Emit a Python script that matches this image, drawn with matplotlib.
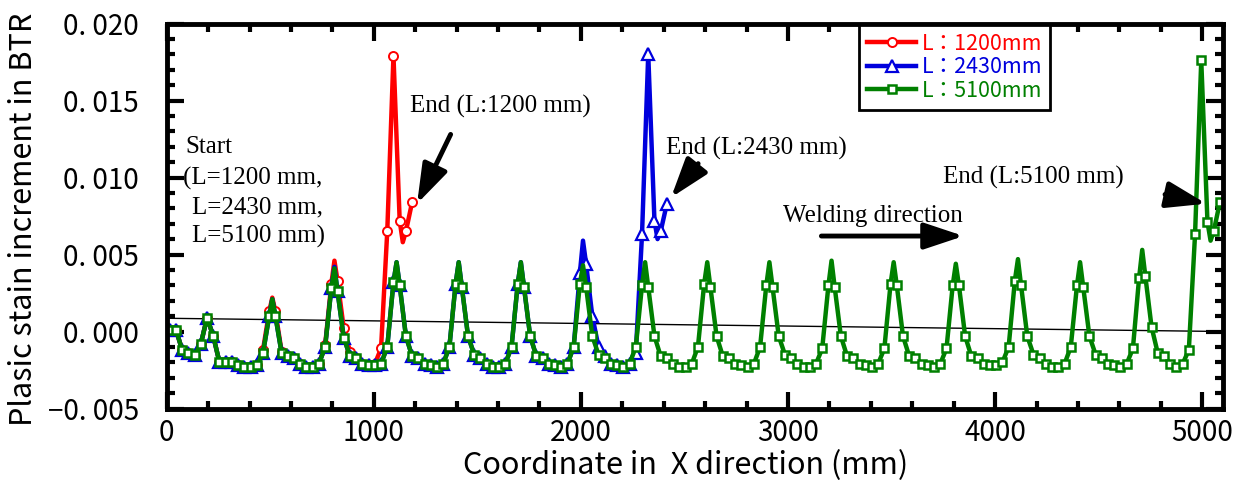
import numpy as np
import matplotlib
matplotlib.use('Agg')
import matplotlib.pyplot as plt
from matplotlib.ticker import MultipleLocator, FuncFormatter

plt.rcParams['font.family'] = ['Noto Sans CJK JP', 'DejaVu Sans']

# ---- data ----
# marker positions: every 30 mm starting at 15 mm
green_x = np.arange(15, 5100, 30)
green_y = [
    0.0001, 0.0001, -0.0012, -0.0014, -0.0015, -0.0008, 0.0009, -0.0003, -0.0020, -0.0020,
    -0.0020, -0.0022, -0.0023, -0.0023, -0.0022, -0.0014,
    0.0010, 0.0010, -0.0014, -0.0016, -0.0017, -0.0021, -0.0023, -0.0023, -0.0021, -0.0010,
    0.0028, 0.0026, -0.0004, -0.0016, -0.0017, -0.0021, -0.0022, -0.0022, -0.0021, -0.0010,
    0.0032, 0.0030, -0.0003, -0.0016, -0.0017, -0.0021, -0.0022, -0.0023, -0.0021, -0.0010,
    0.0031, 0.0029, -0.0003, -0.0015, -0.0017, -0.0021, -0.0023, -0.0023, -0.0021, -0.0010,
    0.0031, 0.0029, -0.0003, -0.0016, -0.0017, -0.0021, -0.0022, -0.0023, -0.0021, -0.0010,
    0.0031, 0.0029, -0.0003, -0.0015, -0.0017, -0.0021, -0.0022, -0.0023, -0.0021, -0.0010,
    0.0030, 0.0029, -0.0003, -0.0016, -0.0017, -0.0021, -0.0023, -0.0023, -0.0021, -0.0010,
    0.0031, 0.0029, -0.0003, -0.0016, -0.0017, -0.0021, -0.0022, -0.0023, -0.0021, -0.0010,
    0.0030, 0.0029, -0.0003, -0.0015, -0.0017, -0.0021, -0.0023, -0.0023, -0.0021, -0.0011,
    0.0030, 0.0029, -0.0003, -0.0016, -0.0017, -0.0021, -0.0022, -0.0023, -0.0021, -0.0011,
    0.0031, 0.0030, -0.0003, -0.0016, -0.0017, -0.0021, -0.0022, -0.0023, -0.0021, -0.0011,
    0.0030, 0.0030, -0.0003, -0.0016, -0.0017, -0.0021, -0.0022, -0.0022, -0.0020, -0.0010,
    0.0033, 0.0030, -0.0003, -0.0015, -0.0017, -0.0021, -0.0023, -0.0023, -0.0021, -0.0010,
    0.0030, 0.0029, -0.0003, -0.0015, -0.0017, -0.0021, -0.0022, -0.0023, -0.0021, -0.0011,
    0.0035, 0.0036, 0.0003, -0.0014, -0.0016, -0.0021, -0.0023, -0.0021, -0.0012, 0.0063,
    0.0176, 0.0071, 0.0065, 0.0084,
]
# line-only points (peak tips between the markers)
green_tip_x = [0, 510, 810, 1110, 1410, 1710, 2010, 2310, 2610, 2910, 3210, 3510, 3810, 4110, 4410, 4710, 5040]
green_tip_y = [0.0005, 0.0021, 0.0041, 0.0045, 0.0045, 0.0045, 0.0043, 0.0045, 0.0045, 0.0045, 0.0046,
               0.0045, 0.0044, 0.0047, 0.0045, 0.0053, 0.0059]

red_x = np.arange(15, 1200, 30)
red_y = [
    0.0001, 0.0001, -0.0012, -0.0014, -0.0015, -0.0008, 0.0009, -0.0003, -0.0020, -0.0020,
    -0.0020, -0.0022, -0.0023, -0.0023, -0.0022, -0.0012,
    0.0013, 0.0013, -0.0013, -0.0016, -0.0017, -0.0021, -0.0023, -0.0023, -0.0021, -0.0009,
    0.0031, 0.0033, 0.0002, -0.0013, -0.0017, -0.0021, -0.0022, -0.0021, -0.0011, 0.0065,
    0.0179, 0.0072, 0.0065, 0.0084,
]
red_tip_x = [0, 510, 810, 1140]
red_tip_y = [0.0006, 0.0022, 0.0046, 0.0058]

blue_x = np.arange(15, 2430, 30)
blue_y = [
    0.0001, 0.0001, -0.0012, -0.0014, -0.0015, -0.0008, 0.0009, -0.0003, -0.0020, -0.0020,
    -0.0020, -0.0022, -0.0023, -0.0023, -0.0022, -0.0014,
    0.0010, 0.0010, -0.0014, -0.0016, -0.0017, -0.0021, -0.0023, -0.0023, -0.0021, -0.0010,
    0.0028, 0.0026, -0.0004, -0.0016, -0.0017, -0.0021, -0.0022, -0.0022, -0.0021, -0.0010,
    0.0032, 0.0030, -0.0003, -0.0016, -0.0017, -0.0021, -0.0022, -0.0023, -0.0021, -0.0010,
    0.0031, 0.0029, -0.0003, -0.0015, -0.0017, -0.0021, -0.0023, -0.0023, -0.0021, -0.0010,
    0.0031, 0.0029, -0.0003, -0.0016, -0.0017, -0.0021, -0.0022, -0.0023, -0.0021, -0.0010,
    0.0038, 0.0044, 0.0010, -0.0010, -0.0016, -0.0021, -0.0022, -0.0023, -0.0021, -0.0014,
    0.0063, 0.0180, 0.0072, 0.0065, 0.0083,
]
blue_tip_x = [0, 510, 810, 1110, 1410, 1710, 2010, 2370]
blue_tip_y = [0.0005, 0.0021, 0.0042, 0.0045, 0.0045, 0.0045, 0.0059, 0.0060]

# thin reference line
trend_x = [0, 5100]
trend_y = [0.00086, 0.0]

labels = ['L：1200mm', 'L：2430mm', 'L：5100mm']
colors = ['#ff0000', '#0000dd', '#008000']


def merge(xm, ym, xt, yt):
    # line goes through markers and tip points, markers only on the marker points
    x = np.concatenate([np.asarray(xm, float), np.asarray(xt, float)])
    y = np.concatenate([np.asarray(ym, float), np.asarray(yt, float)])
    order = np.argsort(x, kind='stable')
    idx = [i for i, o in enumerate(order) if o < len(xm)]
    return x[order], y[order], idx


fig = plt.figure(figsize=(12.41, 4.90), dpi=100)
ax = fig.add_axes([0.1343, 0.1663, 0.8512, 0.7857])

ax.plot(trend_x, trend_y, color='black', lw=1.0, zorder=1)

series = [
    (red_x, red_y, red_tip_x, red_tip_y, 'o', 6.5, 1.4),
    (blue_x, blue_y, blue_tip_x, blue_tip_y, '^', 8, 1.6),
    (green_x, green_y, green_tip_x, green_tip_y, 's', 6.2, 1.8),
]
handles = []
for (xm, ym, xt, yt, mk, ms, mew), c, lab in zip(series, colors, labels):
    x, y, idx = merge(xm, ym, xt, yt)
    h, = ax.plot(x, y, color=c, lw=3.2, marker=mk, markevery=idx, markersize=ms,
                 markerfacecolor='white', markeredgecolor=c, markeredgewidth=mew,
                 label=lab, zorder=2)
    handles.append(h)

ax.set_xlim(0, 5100)
ax.set_ylim(-0.005, 0.020)
ax.xaxis.set_major_locator(MultipleLocator(1000))
ax.xaxis.set_minor_locator(MultipleLocator(200))
ax.yaxis.set_major_locator(MultipleLocator(0.005))
ax.yaxis.set_minor_locator(MultipleLocator(0.001))
ax.yaxis.set_major_formatter(FuncFormatter(lambda v, p: f'{v:.3f}'.replace('.', '. ').replace('-', '−')))
ax.tick_params(which='both', direction='in', top=True, right=True, width=3)
ax.tick_params(which='major', length=12, labelsize=20)
ax.tick_params(which='minor', length=6)
ax.tick_params(axis='y', which='major', pad=20)
ax.tick_params(axis='x', which='major', pad=7)
for s in ax.spines.values():
    s.set_linewidth(3.5)

ax.set_xlabel('Coordinate in  X direction (mm)', fontsize=22)
ax.xaxis.label.set_va('center')
ax.xaxis.set_label_coords(0.4916, -0.147)
ax.set_ylabel('Plasic stain increment in BTR', fontsize=22)
ax.yaxis.label.set_va('center')
ax.yaxis.set_label_coords(-0.136, 0.492)

# annotations
tf = dict(family='Liberation Serif', fontsize=18, va='center', ha='left')
ax.text(88, 0.01198, 'Start', **tf)
ax.text(79, 0.00997, '(L=1200 mm,', **tf)
ax.text(122, 0.00808, 'L=2430 mm,', **tf)
ax.text(122, 0.0062, 'L=5100 mm)', **tf)
ax.text(1175, 0.0146, 'End (L:1200 mm)', **tf)
ax.text(2411, 0.0119, 'End (L:2430 mm)', **tf)
ax.text(3746, 0.0100, 'End (L:5100 mm)', **tf)
ax.text(2977, 0.0075, 'Welding direction', **tf)

ap = dict(arrowstyle='-|>,head_length=0.6,head_width=0.2', color='black', lw=3.5,
          mutation_scale=40, shrinkA=0, shrinkB=0)
ax.annotate('', xy=(1209, 0.0083), xytext=(1371, 0.0128), arrowprops=ap)
ax.annotate('', xy=(2435, 0.0087), xytext=(2566, 0.0109), arrowprops=ap)
ax.annotate('', xy=(5019, 0.0083), xytext=(4820, 0.0089), arrowprops=ap)
ax.annotate('', xy=(3848, 0.0062), xytext=(3161, 0.0062), arrowprops=ap)

leg = ax.legend(handles=handles, loc='upper right', bbox_to_anchor=(1050 / 1241, 1 - 25 / 490),
                bbox_transform=fig.transFigure, borderaxespad=0, fontsize=15.5,
                handlelength=2.3, handletextpad=0.25, labelspacing=0.08, borderpad=0.35,
                fancybox=False, framealpha=1, edgecolor='black')
leg.get_frame().set_linewidth(2)
for t, c in zip(leg.get_texts(), colors):
    t.set_color(c)

fig.savefig('out.png', dpi=100)
